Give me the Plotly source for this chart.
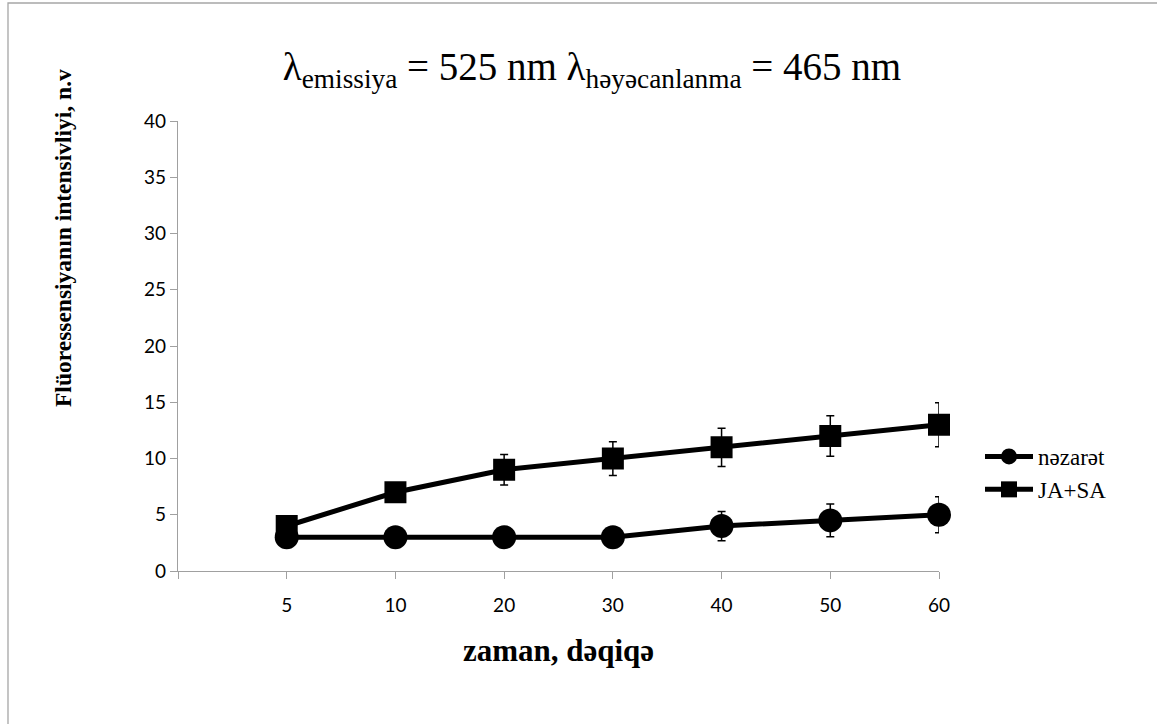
import plotly.graph_objects as go

# ---- data ----
times = ["5", "10", "20", "30", "40", "50", "60"]
nezaret = [3, 3, 3, 3, 4, 4.5, 5]
nezaret_err = [0.3, 0.3, 0.3, 0.3, 1.3, 1.45, 1.6]
ja_sa = [4, 7, 9, 10, 11, 12, 13]
ja_sa_err = [0.5, 0.7, 1.35, 1.5, 1.7, 1.8, 1.95]
y_ticks = [0, 5, 10, 15, 20, 25, 30, 35, 40]

# category positions (first slot left empty like the original)
xpos = list(range(1, len(times) + 1))

W, H = 1157, 724
L, R, T, B = 178, 218, 121, 153
pw, ph = W - L - R, H - T - B

SERIF = "Liberation Serif"

def px_x(px):
    return (px - L) / pw

def px_y(py):
    return (H - B - py) / ph

fig = go.Figure()

fig.add_trace(go.Scatter(
    x=xpos, y=nezaret, name="nəzarət", mode="lines+markers",
    line=dict(color="black", width=5),
    marker=dict(symbol="circle", size=24, color="black"),
    error_y=dict(type="data", array=nezaret_err, visible=True,
                 color="black", thickness=1.5, width=4),
    cliponaxis=False,
))
fig.add_trace(go.Scatter(
    x=xpos, y=ja_sa, name="JA+SA", mode="lines+markers",
    line=dict(color="black", width=5),
    marker=dict(symbol="square", size=22, color="black"),
    error_y=dict(type="data", array=ja_sa_err, visible=True,
                 color="black", thickness=1.5, width=4),
    cliponaxis=False,
))

tick_font = dict(family="Lato", size=19, color="black")

fig.update_layout(
    width=W, height=H,
    margin=dict(l=L, r=R, t=T, b=B),
    paper_bgcolor="white", plot_bgcolor="white",
    title=dict(
        text="λ<sub>emissiya</sub> = 525 nm λ<sub>həyəcanlanma</sub> = 465 nm",
        font=dict(family=SERIF, size=39, color="black"),
        x=592 / W, xanchor="center", y=1 - 66 / H, yanchor="middle",
    ),
    xaxis=dict(
        range=[0, len(times)],
        tickmode="array", tickvals=[0] + xpos, ticktext=[""] + times,
        showgrid=False, zeroline=False,
        showline=True, linecolor="#a0a0a0", linewidth=1.3,
        ticks="outside", ticklen=7, tickcolor="#a0a0a0", tickwidth=1.3,
        tickfont=tick_font, ticklabelstandoff=10,
        title=dict(text="<b>zaman, dəqiqə</b>",
                   font=dict(family=SERIF, size=31, color="black"),
                   standoff=24),
    ),
    yaxis=dict(
        range=[0, 40], tickmode="array", tickvals=y_ticks,
        showgrid=False, zeroline=False,
        showline=True, linecolor="#a0a0a0", linewidth=1.3,
        ticks="outside", ticklen=7, tickcolor="#a0a0a0", tickwidth=1.3,
        tickfont=tick_font,
    ),
    legend=dict(
        x=px_x(980), xanchor="left", y=px_y(435), yanchor="top",
        font=dict(family=SERIF, size=23, color="black"),
        bgcolor="rgba(0,0,0,0)", itemwidth=48, tracegroupgap=0,
    ),
    showlegend=True,
)

fig.add_annotation(
    text="<b>Flüoressensiyanın intensivliyi, n.v</b>",
    xref="paper", yref="paper", x=px_x(63), y=px_y(238),
    xanchor="center", yanchor="middle", textangle=-90, showarrow=False,
    font=dict(family=SERIF, size=23.5, color="black"),
)

# outer chart border (left & top visible)
fig.add_shape(type="rect", xref="paper", yref="paper",
              x0=px_x(8), x1=px_x(1170), y0=px_y(740), y1=px_y(3),
              line=dict(color="#a6a6a6", width=1.3), fillcolor="rgba(0,0,0,0)",
              layer="below")

fig.write_html("out.html", config={"displayModeBar": False},
               post_script="document.body.style.margin='0px';document.body.style.overflow='hidden';")
